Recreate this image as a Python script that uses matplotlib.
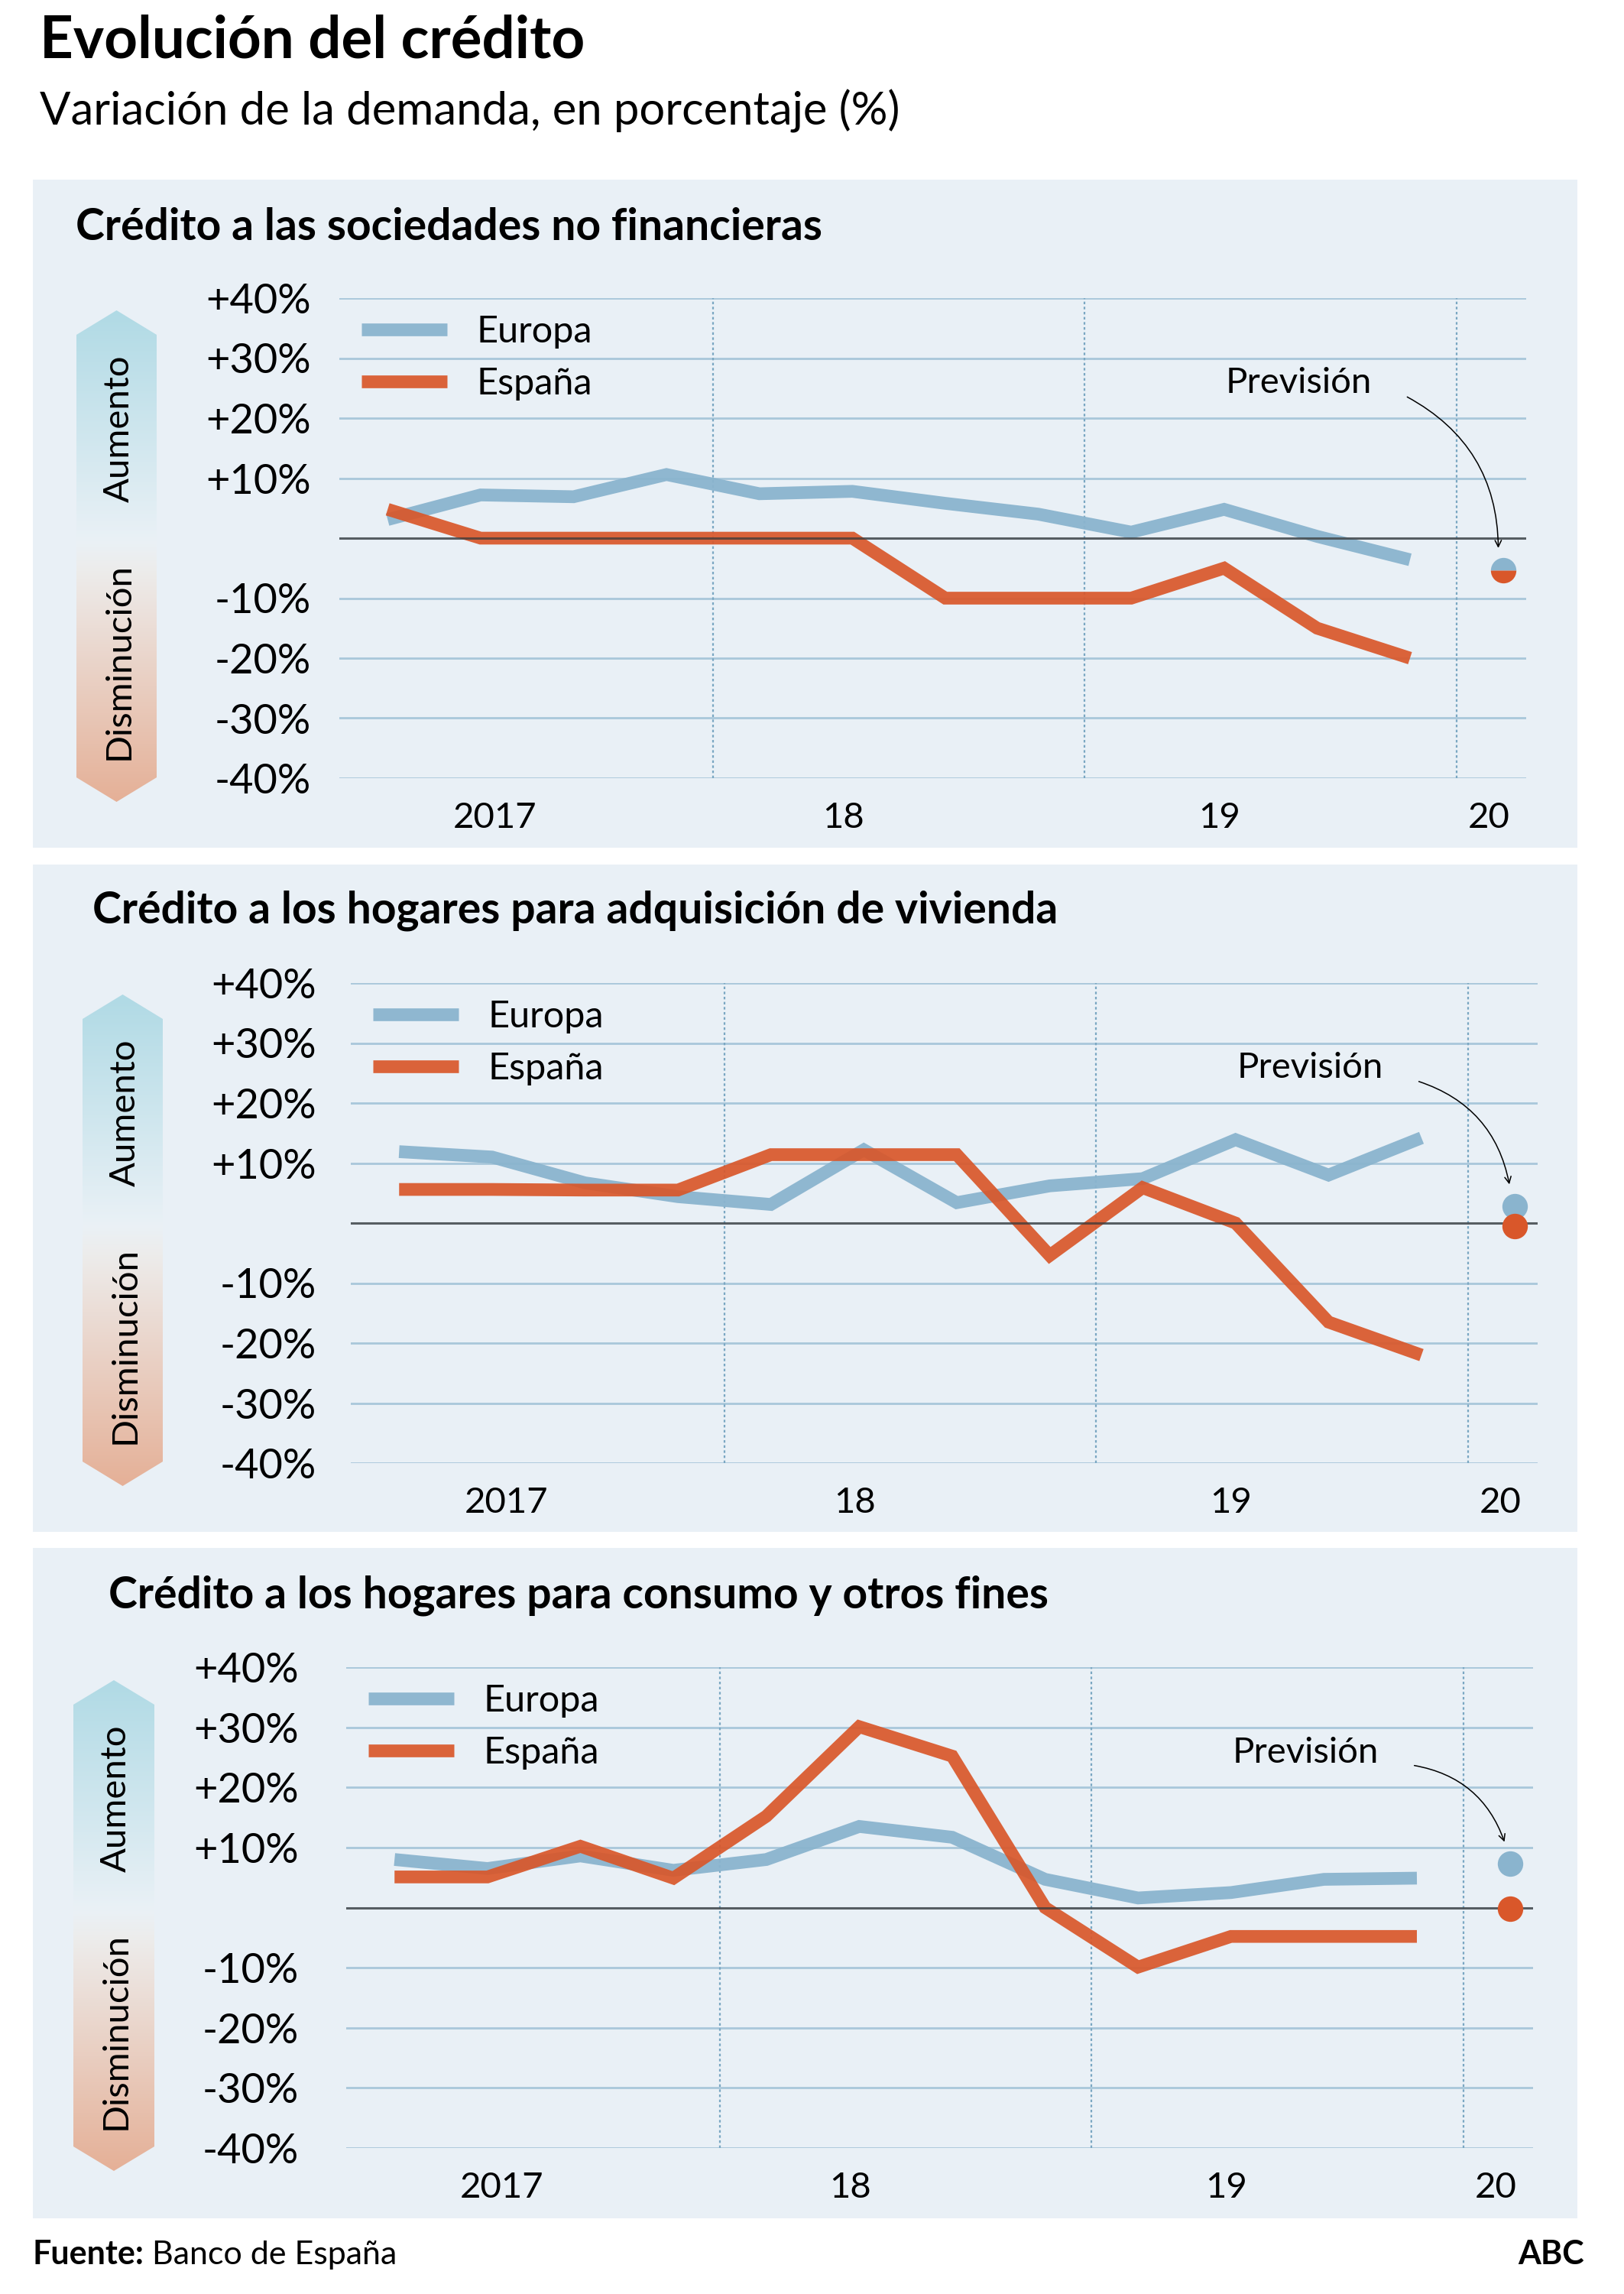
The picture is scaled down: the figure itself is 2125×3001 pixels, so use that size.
import numpy as np
import matplotlib.pyplot as plt
from matplotlib.patches import Rectangle, Polygon, FancyArrowPatch
from matplotlib.colors import LinearSegmentedColormap

plt.rcParams['font.family'] = ['Lato', 'DejaVu Sans']

W, H = 2125, 3001

# Quarters 2017-T1 .. 2019-T4, forecast for 2020-T1 comes after
quarters = ['2017 T1', '2017 T2', '2017 T3', '2017 T4',
            '2018 T1', '2018 T2', '2018 T3', '2018 T4',
            '2019 T1', '2019 T2', '2019 T3', '2019 T4']
forecast_quarter = '2020 T1'

year_labels = ['2017', '18', '19', '20']
y_ticks = [-40, -30, -20, -10, 0, 10, 20, 30, 40]
y_labels = ['-40%', '-30%', '-20%', '-10%', '', '+10%', '+20%', '+30%', '+40%']

titles = ['Crédito a las sociedades no financieras',
          'Crédito a los hogares para adquisición de vivienda',
          'Crédito a los hogares para consumo y otros fines']

# Sociedades no financieras
europa_empresas = [3.1, 7.2, 6.9, 10.6, 7.4, 7.8, 5.8, 4.0, 1.0, 4.8, 0.3, -3.6]
espana_empresas = [4.8, 0, 0, 0, 0, 0, -10, -10, -10, -5, -15, -20]
prev_empresas = (-5.3, -5.3)   # (Europa, España)

# Vivienda
europa_vivienda = [11.9, 11.0, 6.7, 4.4, 3.1, 12.2, 3.4, 6.2, 7.4, 13.9, 8.0, 14.2]
espana_vivienda = [5.6, 5.6, 5.5, 5.5, 11.4, 11.4, 11.4, -5.4, 5.9, 0, -16.5, -22]
prev_vivienda = (2.8, -0.5)

# Consumo y otros fines
europa_consumo = [8.0, 6.5, 8.6, 6.2, 8.0, 13.5, 11.7, 4.7, 1.6, 2.5, 4.7, 4.9]
espana_consumo = [5.1, 5.1, 10.2, 4.9, 15.2, 30.1, 25.2, 0, -9.9, -4.8, -4.8, -4.8]
prev_consumo = (7.3, -0.2)

series = [(europa_empresas, espana_empresas, prev_empresas),
          (europa_vivienda, espana_vivienda, prev_vivienda),
          (europa_consumo, espana_consumo, prev_consumo)]

BLUE = '#8AB4CE'
ORANGE = '#D9572A'
PANEL_BG = '#E9F0F6'
GRID = '#A9C7DA'

# layout of each panel in pixels
panels = [
    dict(box=(43, 235, 2064, 1109), title=(99, 314), axes=(444, 390, 1997, 1018),
         bar=(100, 205, 406, 1049), ypad=37),
    dict(box=(43, 1131, 2064, 2004), title=(121, 1208), axes=(459, 1286, 2012, 1914),
         bar=(108, 213, 1301, 1944), ypad=45),
    dict(box=(43, 2025, 2064, 2902), title=(142, 2104), axes=(453, 2181, 2006, 2810),
         bar=(96, 202, 2198, 2840), ypad=62),
]

fig = plt.figure(figsize=(W / 100, H / 100), dpi=100)
fig.patch.set_facecolor('white')

bg = fig.add_axes([0, 0, 1, 1])
bg.set_xlim(0, W)
bg.set_ylim(H, 0)
bg.axis('off')

bg.text(52, 75, 'Evolución del crédito', fontsize=55, fontweight='bold', va='baseline')
bg.text(52, 163, 'Variación de la demanda, en porcentaje (%)', fontsize=43, va='baseline')

grad_cmap = LinearSegmentedColormap.from_list(
    'grad', [(0, '#B0DAE5'), (0.47, '#EAF1F6'), (0.53, '#EDECEB'), (1, '#E5B097')])

x = np.arange(len(quarters))
x_prev = len(quarters)


def fig_box(left, top, right, bottom):
    return [left / W, 1 - bottom / H, (right - left) / W, (bottom - top) / H]


for p, title, (eu, es, prev) in zip(panels, titles, series):
    l, t, r, b = p['box']
    bg.add_patch(Rectangle((l, t), r - l, b - t, color=PANEL_BG, zorder=0, lw=0))
    bg.text(p['title'][0], p['title'][1], title, fontsize=41, fontweight='bold',
            va='baseline')

    # gradient arrow on the left
    x0, x1, top, bot = p['bar']
    xm = (x0 + x1) / 2
    d = 32
    poly = Polygon([(x0, top + d), (xm, top), (x1, top + d), (x1, bot - d),
                    (xm, bot), (x0, bot - d)], closed=True, fc='none', ec='none')
    bg.add_patch(poly)
    grad = np.linspace(0, 1, 256).reshape(-1, 1)
    im = bg.imshow(grad, cmap=grad_cmap, extent=[x0, x1, bot, top], aspect='auto',
                   origin='upper', zorder=1)
    im.set_clip_path(poly)
    bg.text(xm + 3, top + 155, 'Aumento', rotation=90, fontsize=34,
            ha='center', va='center', zorder=2)
    bg.text(xm + 3, top + 459, 'Disminución', rotation=90, fontsize=34,
            ha='center', va='center', zorder=2)

    ax = fig.add_axes(fig_box(*p['axes']))
    ax.patch.set_alpha(0)
    ax.set_xlim(-0.52, 12.25)
    ax.set_ylim(-40, 40)
    for s in ax.spines.values():
        s.set_visible(False)
    ax.set_yticks(y_ticks, y_labels)
    ax.tick_params(axis='y', length=0, pad=p['ypad'] * 0.72, labelsize=39)
    ax.set_xticks([1.15, 4.9, 8.95, 11.85], year_labels)
    ax.tick_params(axis='x', length=0, pad=22, labelsize=34)
    ax.grid(axis='y', color=GRID, lw=2)
    ax.set_axisbelow(True)
    for xv in [3.5, 7.5, 11.5]:
        ax.axvline(xv, color='#7AA7C2', lw=1.6, ls=(0, (1.5, 1.5)), zorder=1)

    ax.plot(x, eu, color=BLUE, lw=12, alpha=0.95, solid_capstyle='butt',
            solid_joinstyle='miter', label='Europa', zorder=3)
    ax.plot(x, es, color=ORANGE, lw=12, alpha=0.92, solid_capstyle='butt',
            solid_joinstyle='miter', label='España', zorder=3)
    ax.axhline(0, color='#3a3a3a', lw=2.2, alpha=0.75, zorder=5)

    # forecast dots
    if prev[0] == prev[1]:
        ax.plot([x_prev], [prev[0]], 'o', ms=24, color=BLUE, mew=0,
                fillstyle='top', zorder=6)
        ax.plot([x_prev], [prev[1]], 'o', ms=24, color=ORANGE, mew=0,
                fillstyle='bottom', zorder=6)
    else:
        ax.plot([x_prev], [prev[0]], 'o', ms=24, color=BLUE, mew=0, zorder=6)
        ax.plot([x_prev], [prev[1]], 'o', ms=24, color=ORANGE, mew=0, zorder=6)

    ax.text(9.8, 25.8, 'Previsión', fontsize=34, ha='center', va='center')
    arr = FancyArrowPatch((10.95, 23.7), (11.95, max(prev) + 3.3),
                          connectionstyle='arc3,rad=-0.3',
                          arrowstyle='->,head_length=6,head_width=3',
                          color='black', lw=1.1, zorder=7)
    ax.add_patch(arr)

    ax.legend(loc='upper left', bbox_to_anchor=(0.0187, 0.965), frameon=False,
              fontsize=35, handlelength=2.3, handletextpad=0.8,
              labelspacing=0.5, borderpad=0, borderaxespad=0)

t1 = bg.text(42, 2962, 'Fuente:', fontsize=31, fontweight='bold', va='baseline')
bg.annotate(' Banco de España', xy=(1, 0), xycoords=t1, fontsize=31,
            va='bottom', ha='left')
bg.text(2073, 2962, 'ABC', fontsize=31, fontweight='bold', ha='right', va='baseline')

fig.savefig('out.png', dpi=100)
